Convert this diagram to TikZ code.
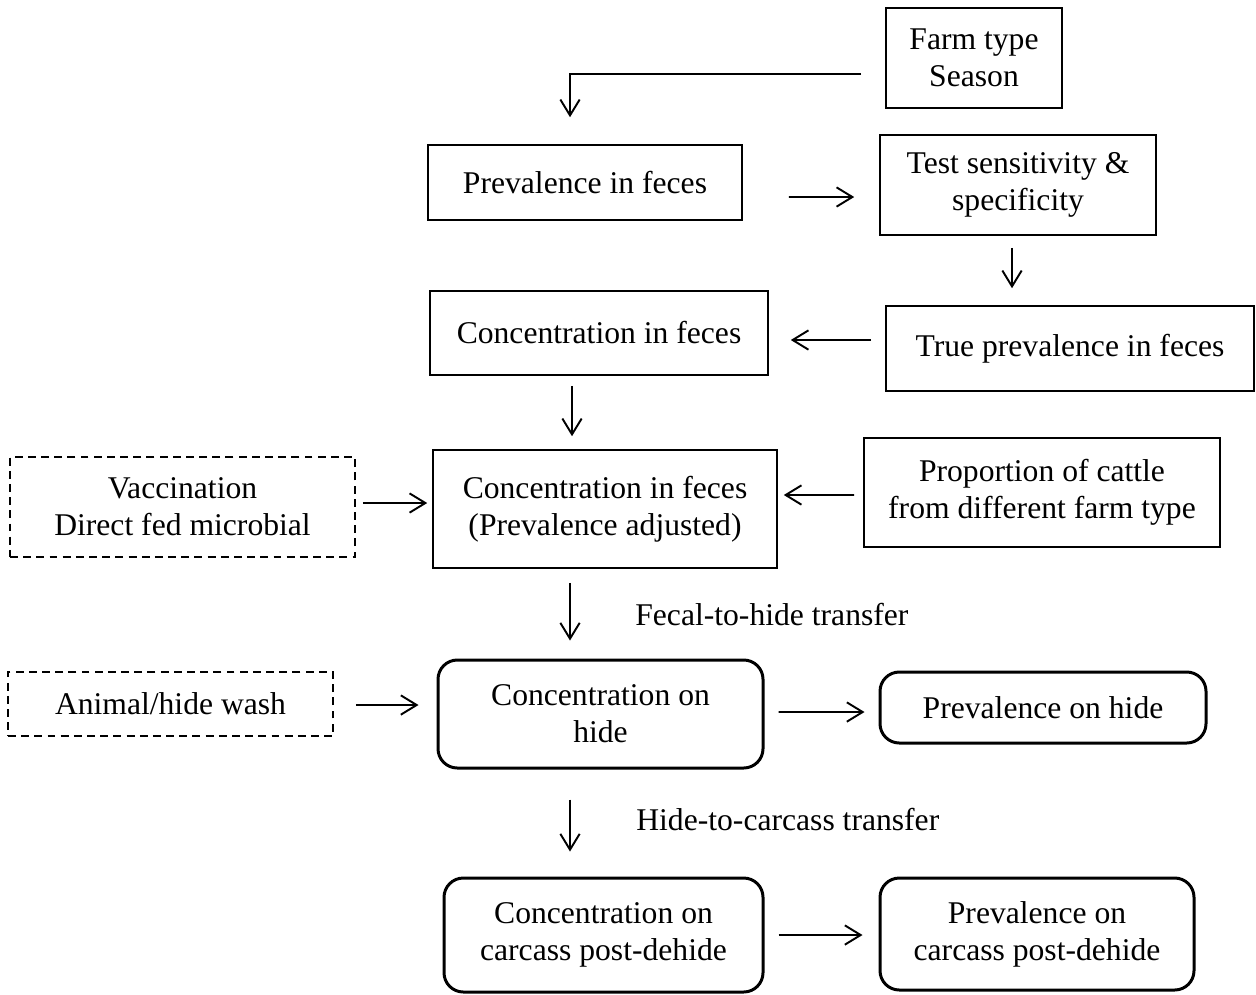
\documentclass[tikz,border=0pt]{standalone}
\usepackage{fontspec}
\setmainfont{Liberation Serif}
\usetikzlibrary{arrows.meta}
\newcommand{\unitpx}{0.02cm}

\tikzset{
  box/.style={draw, line width=0.9pt, inner sep=0pt, align=center,
    font=\fontsize{18}{21}\selectfont},
  dbox/.style={box, dash pattern=on 4.5pt off 3pt},
  rbox/.style={box, line width=1.7pt, rounded corners=11pt},
  arr/.style={-{Straight Barb[length=9pt,width=11pt]}, line width=1.1pt},
  lbl/.style={anchor=west, inner sep=0pt, font=\fontsize{18}{21}\selectfont}
}

\begin{document}
\begin{tikzpicture}[x=0.02cm, y=-0.02cm]
    \useasboundingbox (0,0) rectangle (1256,994);
    % boxes
    \node[box, minimum width=176*\unitpx, minimum height=100*\unitpx] (farm) at (974,58) {Farm type\\Season};
    \node[box, minimum width=314*\unitpx, minimum height=75*\unitpx] (prev) at (585,182.5) {Prevalence in feces};
    \node[box, minimum width=276*\unitpx, minimum height=100*\unitpx] (test) at (1018,185) {Test sensitivity \&\\specificity};
    \node[box, minimum width=338*\unitpx, minimum height=84*\unitpx] (conc) at (599,333) {Concentration in feces};
    \node[box, minimum width=368*\unitpx, minimum height=85*\unitpx] (truep) at (1070,348.5) {True prevalence in feces};
    \node[dbox, minimum width=345*\unitpx, minimum height=100*\unitpx] (vacc) at (182.5,507) {Vaccination\\Direct fed microbial};
    \node[box, minimum width=344*\unitpx, minimum height=118*\unitpx] (concadj) at (605,509) {Concentration in feces\\(Prevalence adjusted)};
    \node[box, minimum width=356*\unitpx, minimum height=109*\unitpx] (prop) at (1042,492.5) {Proportion of cattle\\from different farm type};
    \node[dbox, minimum width=325*\unitpx, minimum height=64*\unitpx] (wash) at (170.5,704) {Animal/hide wash};
    \node[rbox, minimum width=325*\unitpx, minimum height=108*\unitpx] (hide) at (600.5,714) {Concentration on\\hide};
    \node[rbox, minimum width=326*\unitpx, minimum height=71*\unitpx] (phide) at (1043,707.5) {Prevalence on hide};
    \node[rbox, minimum width=319*\unitpx, minimum height=114*\unitpx] (carc) at (603.5,935) {Concentration on\\carcass post-dehide};
    \node[rbox, minimum width=314*\unitpx, minimum height=112*\unitpx] (pcarc) at (1037,934) {Prevalence on\\carcass post-dehide};
    % transfer labels
    \node[lbl] (fth) at (635,615) {Fecal-to-hide transfer};
    \node[lbl] (htc) at (636,820) {Hide-to-carcass transfer};
    % arrows
    \draw[arr] ([shift={(-24,16)}]farm.west) -| ([shift={(-15,-27)}]prev.north);
    \draw[arr] ([shift={(46,14.5)}]prev.east) -- ([shift={(-25,12)}]test.west);
    \draw[arr] ([shift={(-6,12)}]test.south) -- ([shift={(-58,-17)}]truep.north);
    \draw[arr] ([shift={(-14,-8.5)}]truep.west) -- ([shift={(22,7)}]conc.east);
    \draw[arr] ([shift={(-27,10)}]conc.south) -- ([shift={(-33,-13)}]concadj.north);
    \draw[arr] ([shift={(7,-4)}]vacc.east) -- ([shift={(-5,-6)}]concadj.west);
    \draw[arr] ([shift={(-9,2.5)}]prop.west) -- ([shift={(6,-14)}]concadj.east);
    \draw[arr] ([shift={(-35,14)}]concadj.south) -- ([shift={(-30.5,-18)}]hide.north);
    \draw[arr] ([shift={(22,1)}]wash.east) -- ([shift={(-18,-9)}]hide.west);
    \draw[arr] ([shift={(14,-2)}]hide.east) -- ([shift={(-14,4.5)}]phide.west);
    \draw[arr] ([shift={(-30.5,30)}]hide.south) -- ([shift={(-33.5,-25)}]carc.north);
    \draw[arr] ([shift={(14,0)}]carc.east) -- ([shift={(-16,1)}]pcarc.west);
\end{tikzpicture}
\end{document}
